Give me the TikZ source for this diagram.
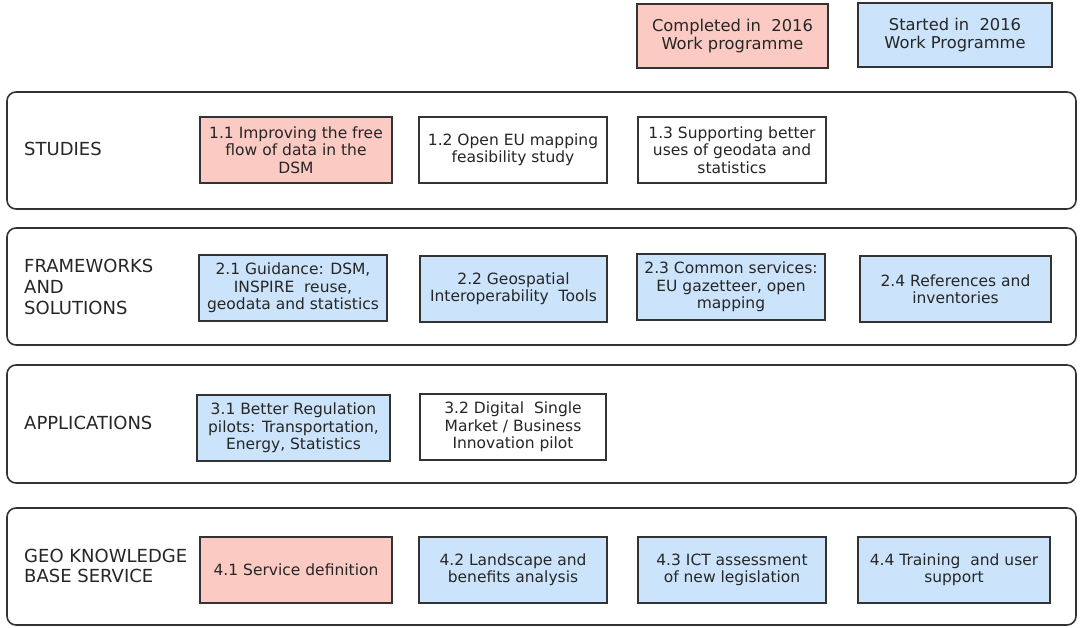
\documentclass[tikz,border=0pt]{standalone}
\usepackage{fontspec}
\setmainfont{DejaVu Sans}
\definecolor{donepink}{RGB}{251,202,195}
\definecolor{startblue}{RGB}{204,228,251}
\definecolor{txt}{RGB}{38,38,38}
\definecolor{edge}{RGB}{51,51,51}
\begin{document}
\begin{tikzpicture}[x=1pt,y=-1pt,
  rowframe/.style={draw=edge,line width=1.6pt,rounded corners=9pt},
  rowlabel/.style={anchor=west,align=left,text=txt,inner sep=0pt,
    font=\fontsize{18}{20.7}\selectfont},
  item/.style={draw=edge,line width=1.7pt,align=center,text=txt,inner sep=0pt,
    minimum height=66pt,font=\fontsize{15.5}{17.3}\selectfont},
  pinkitem/.style={item,fill=donepink},
  blueitem/.style={item,fill=startblue},
  whiteitem/.style={item,fill=white},
  legend/.style={draw=edge,line width=1.7pt,align=center,text=txt,inner sep=0pt,
    minimum height=64pt,font=\fontsize{16.3}{18.5}\selectfont}]
\useasboundingbox (0,0) rectangle (1080,628);
\fill[white] (0,0) rectangle (1080,628);

% legend
\node[legend,fill=donepink,minimum width=191pt] (lgdone) at (732.5,36) {Completed in~ 2016\\Work programme};
\node[legend,fill=startblue,minimum width=194pt] (lgstart) at (955,35) {Started in~ 2016\\Work Programme};

% row frames
\draw[rowframe] (7,92) rectangle (1076,209);
\draw[rowframe] (7,228) rectangle (1076,345);
\draw[rowframe] (7,365) rectangle (1076,483);
\draw[rowframe] (7,508) rectangle (1076,625);

% row labels
\node[rowlabel] (lstudies) at (24,149) {STUDIES};
\node[rowlabel] (lframe) at (24,287) {FRAMEWORKS\\AND\\SOLUTIONS};
\node[rowlabel] (lapps) at (24,423) {APPLICATIONS};
\node[rowlabel] (lgeo) at (24,566) {GEO KNOWLEDGE\\BASE SERVICE};

% row 1
\node[pinkitem,minimum width=192pt] (b11) at (296,150) {1.1 Improving the free\\flow of data in the\\DSM};
\node[whiteitem,minimum width=188pt] (b12) at (513,150) {1.2 Open EU mapping\\feasibility study};
\node[whiteitem,minimum width=188pt] (b13) at (732,150) {1.3 Supporting better\\uses of geodata and\\statistics};

% row 2
\node[blueitem,minimum width=188pt] (b21) at (293,288) {2.1 Guidance: DSM,\\INSPIRE~ reuse,\\geodata and statistics};
\node[blueitem,minimum width=187pt] (b22) at (513.5,289) {2.2 Geospatial\\Interoperability~ Tools};
\node[blueitem,minimum width=188pt] (b23) at (731,287) {2.3 Common services:\\EU gazetteer, open\\mapping};
\node[blueitem,minimum width=191pt] (b24) at (955.5,289) {2.4 References and\\inventories};

% row 3
\node[blueitem,minimum width=193pt] (b31) at (293.5,428) {3.1 Better Regulation\\pilots: Transportation,\\Energy, Statistics};
\node[whiteitem,minimum width=186pt] (b32) at (513,427) {3.2 Digital~ Single\\Market / Business\\Innovation pilot};

% row 4
\node[pinkitem,minimum width=192pt] (b41) at (296,570) {4.1 Service definition};
\node[blueitem,minimum width=188pt] (b42) at (513,570) {4.2 Landscape and\\benefits analysis};
\node[blueitem,minimum width=188pt] (b43) at (732,570) {4.3 ICT assessment\\of new legislation};
\node[blueitem,minimum width=192pt] (b44) at (954,570) {4.4 Training~ and user\\support};
\end{tikzpicture}
\end{document}
